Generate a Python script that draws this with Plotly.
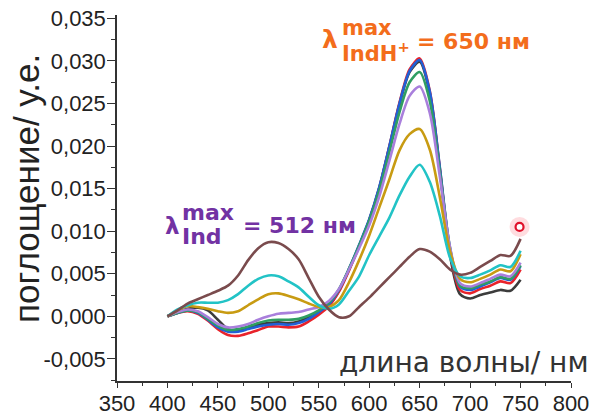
import plotly.graph_objects as go

# ---------------- data ----------------
wavelength = [400, 410, 420, 430, 440, 450, 460, 470, 480, 490, 500, 510, 520, 530, 540, 550,
              560, 570, 580, 590, 600, 610, 620, 630, 640, 650, 660, 670, 680, 690, 700, 710,
              720, 730, 740, 750]

gray = [0.0000, 0.0005, 0.0009, 0.0010, 0.0007, -0.0004, -0.0015, -0.0017, -0.0014, -0.0010, -0.0008, -0.0007,
        -0.0008, -0.0006, -0.0001, 0.0006, 0.0013, 0.0030, 0.0055, 0.0083, 0.0113, 0.0151, 0.0199, 0.0249,
        0.0287, 0.0299, 0.0262, 0.0172, 0.0072, 0.0026, 0.0021, 0.0025, 0.0028, 0.0031, 0.0030, 0.0043]
red = [0.0000, 0.0004, 0.0006, 0.0003, -0.0005, -0.0015, -0.0022, -0.0023, -0.0020, -0.0016, -0.0012, -0.0012,
       -0.0013, -0.0012, -0.0006, 0.0002, 0.0012, 0.0029, 0.0054, 0.0082, 0.0113, 0.0151, 0.0200, 0.0251,
       0.0290, 0.0303, 0.0265, 0.0174, 0.0077, 0.0031, 0.0027, 0.0032, 0.0036, 0.0041, 0.0039, 0.0055]
blue = [0.0000, 0.0004, 0.0007, 0.0004, -0.0004, -0.0013, -0.0018, -0.0018, -0.0015, -0.0012, -0.0010, -0.0009,
        -0.0010, -0.0008, -0.0003, 0.0005, 0.0014, 0.0031, 0.0056, 0.0084, 0.0114, 0.0152, 0.0200, 0.0250,
        0.0288, 0.0301, 0.0264, 0.0175, 0.0080, 0.0035, 0.0031, 0.0035, 0.0040, 0.0045, 0.0043, 0.0059]
green = [0.0000, 0.0004, 0.0007, 0.0005, -0.0003, -0.0011, -0.0016, -0.0015, -0.0012, -0.0008, -0.0005, -0.0004,
         -0.0004, -0.0003, 0.0001, 0.0007, 0.0016, 0.0032, 0.0056, 0.0083, 0.0112, 0.0148, 0.0193, 0.0240,
         0.0275, 0.0287, 0.0253, 0.0170, 0.0081, 0.0036, 0.0033, 0.0037, 0.0041, 0.0046, 0.0044, 0.0060]
purple = [0.0000, 0.0005, 0.0008, 0.0006, -0.0001, -0.0009, -0.0013, -0.0012, -0.0009, -0.0004, 0.0000, 0.0003,
          0.0004, 0.0005, 0.0008, 0.0011, 0.0018, 0.0032, 0.0055, 0.0080, 0.0107, 0.0141, 0.0183, 0.0226,
          0.0259, 0.0270, 0.0239, 0.0164, 0.0082, 0.0039, 0.0035, 0.0039, 0.0044, 0.0049, 0.0047, 0.0063]
gold = [0.0000, 0.0007, 0.0012, 0.0011, 0.0009, 0.0006, 0.0004, 0.0006, 0.0013, 0.0020, 0.0026, 0.0027,
        0.0024, 0.0020, 0.0015, 0.0011, 0.0011, 0.0019, 0.0040, 0.0066, 0.0095, 0.0128, 0.0161, 0.0195,
        0.0214, 0.0220, 0.0196, 0.0140, 0.0077, 0.0044, 0.0040, 0.0044, 0.0049, 0.0055, 0.0053, 0.0073]
cyan = [0.0000, 0.0008, 0.0013, 0.0016, 0.0016, 0.0016, 0.0019, 0.0026, 0.0036, 0.0044, 0.0048, 0.0047,
        0.0041, 0.0034, 0.0023, 0.0013, 0.0009, 0.0014, 0.0030, 0.0047, 0.0072, 0.0094, 0.0116, 0.0142,
        0.0164, 0.0178, 0.0158, 0.0118, 0.0069, 0.0047, 0.0045, 0.0049, 0.0054, 0.0060, 0.0058, 0.0077]
brown = [0.0000, 0.0007, 0.0015, 0.0020, 0.0025, 0.0030, 0.0036, 0.0048, 0.0066, 0.0080, 0.0087, 0.0086,
         0.0079, 0.0067, 0.0045, 0.0023, 0.0008, -0.0001, 0.0000, 0.0011, 0.0022, 0.0034, 0.0046, 0.0058,
         0.0070, 0.0079, 0.0076, 0.0067, 0.0055, 0.0049, 0.0051, 0.0058, 0.0065, 0.0072, 0.0071, 0.0091]

cursor_x = [749]
cursor_y = [0.0105]

x_ticks = [350, 400, 450, 500, 550, 600, 650, 700, 750, 800]
y_ticks = [-0.005, 0.000, 0.005, 0.010, 0.015, 0.020, 0.025, 0.030, 0.035]
y_ticktext = ["-0,005", "0,000", "0,005", "0,010", "0,015", "0,020", "0,025", "0,030", "0,035"]

series = [
    (gray, "#3c3c3c"),
    (red, "#e8232b"),
    (blue, "#2160d6"),
    (green, "#2f9e62"),
    (purple, "#a97fdc"),
    (gold, "#c89b12"),
    (cyan, "#22c3c6"),
    (brown, "#7a4b4d"),
]

W, H = 597, 419
L, R, T, B = 117, 26, 15, 38
PW, PH = W - L - R, H - T - B


def px(xp):
    return (xp - L) / PW


def py(yp):
    return (H - B - yp) / PH


fig = go.Figure()
for vals, col in series:
    fig.add_trace(go.Scatter(x=wavelength, y=vals, mode="lines",
                             line=dict(color=col, width=2.6, shape="spline", smoothing=0.8),
                             showlegend=False, hoverinfo="skip"))

# cursor glow + ring
fig.add_trace(go.Scatter(x=cursor_x, y=cursor_y, mode="markers",
                         marker=dict(size=20, color="rgba(255,60,80,0.18)", line=dict(width=0)),
                         showlegend=False, hoverinfo="skip"))
fig.add_trace(go.Scatter(x=cursor_x, y=cursor_y, mode="markers",
                         marker=dict(size=8, color="white", line=dict(width=2.2, color="#e0102a")),
                         showlegend=False, hoverinfo="skip"))

ann = []
fam = "DejaVu Sans"
orange = "#f36d1c"
violet = "#7232a3"
# orange label
ann.append(dict(text="<b>λ</b>", x=px(330), y=py(40), font=dict(size=25, color=orange, family=fam),
                xanchor="center", yanchor="middle"))
ann.append(dict(text="<b>max</b>", x=px(340), y=py(28), font=dict(size=21, color=orange, family=fam),
                xanchor="left", yanchor="middle"))
ann.append(dict(text="<b>IndH<sup>+</sup></b>", x=px(340), y=py(52), font=dict(size=21, color=orange, family=fam),
                xanchor="left", yanchor="middle"))
ann.append(dict(text="<b>= 650 нм</b>", x=px(415), y=py(42), font=dict(size=22, color=orange, family=fam),
                xanchor="left", yanchor="middle"))
# purple label
ann.append(dict(text="<b>λ</b>", x=px(172), y=py(226), font=dict(size=23, color=violet, family=fam),
                xanchor="center", yanchor="middle"))
ann.append(dict(text="<b>max</b>", x=px(180), y=py(212), font=dict(size=22, color=violet, family=fam),
                xanchor="left", yanchor="middle"))
ann.append(dict(text="<b>Ind</b>", x=px(180), y=py(236), font=dict(size=22, color=violet, family=fam),
                xanchor="left", yanchor="middle"))
ann.append(dict(text="<b>= 512 нм</b>", x=px(241), y=py(225), font=dict(size=22, color=violet, family=fam),
                xanchor="left", yanchor="middle"))
# axis titles
ann.append(dict(text="поглощение/ у.е.", x=px(26), y=py(189), textangle=-90,
                font=dict(size=35, color="#222", family="Liberation Sans"),
                xanchor="center", yanchor="middle"))
ann.append(dict(text="длина волны/ нм", x=px(591), y=py(362),
                font=dict(size=28, color="#333", family=fam),
                xanchor="right", yanchor="middle"))
for a in ann:
    a.update(xref="paper", yref="paper", showarrow=False)

axis_common = dict(showgrid=False, zeroline=False, showline=True, linecolor="#333", linewidth=1.5,
                   ticks="outside", tickcolor="#333", tickwidth=1.3, mirror=False, automargin=False,
                   tickfont=dict(family="Liberation Sans", size=22, color="#222"))

fig.update_layout(
    width=W, height=H,
    margin=dict(l=L, r=R, t=T, b=B),
    paper_bgcolor="white", plot_bgcolor="white",
    xaxis=dict(range=[350, 800], tickvals=x_ticks, ticklen=5, ticklabelstandoff=-3,
               minor=dict(ticks="outside", ticklen=3, dtick=25, tickcolor="#333"), **axis_common),
    yaxis=dict(range=[-0.0076, 0.0354], tickvals=y_ticks, ticktext=y_ticktext, ticklen=8, ticklabelstandoff=-3,
               minor=dict(ticks="outside", ticklen=4, dtick=0.0025, tick0=0, tickcolor="#333"), **axis_common),
    annotations=ann,
)

fig.write_html("out.html", config={"displayModeBar": False},
               post_script="document.body.style.margin='0';document.body.style.overflow='hidden';")
